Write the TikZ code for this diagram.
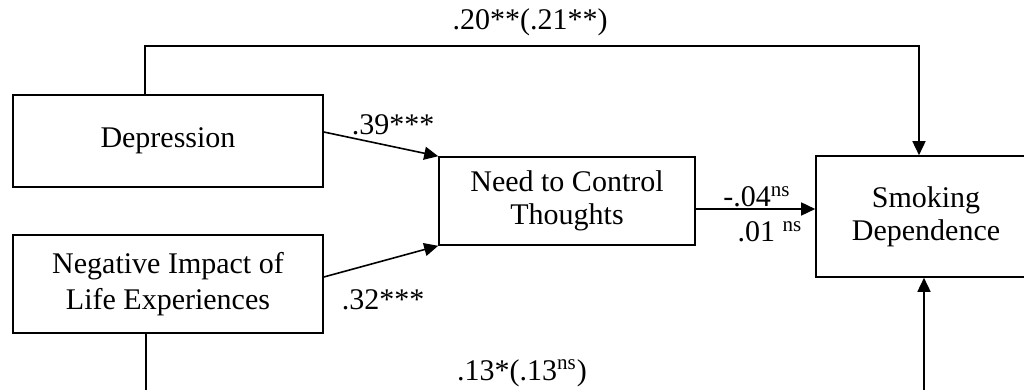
\documentclass[tikz,border=0pt]{standalone}
\usepackage{fontspec}
\setmainfont{Liberation Serif}
\usetikzlibrary{arrows.meta}
\begin{document}
\begin{tikzpicture}[x=0.5pt,y=-0.5pt,
  box/.style={draw,line width=0.8pt,align=center,inner sep=0pt,
    font=\fontsize{15}{16.5}\selectfont},
  path/.style={line width=0.8pt,-{Triangle[width=6.5pt,length=7pt]}},
  coef/.style={inner sep=0pt,font=\fontsize{15}{16.5}\selectfont}]
\useasboundingbox (0,0) rectangle (1024,390);
\clip (0,0) rectangle (1024,390);
% variables
\node[box,minimum width=155pt,minimum height=46pt] (dep) at (168,141) {Depression};
\node[box,minimum width=155pt,minimum height=49pt] (neg) at (168,284)
  {Negative Impact of\\[1.5pt]Life Experiences};
\node[box,minimum width=128pt,minimum height=44pt] (need) at (567,201)
  {Need to Control\\Thoughts};
\node[box,minimum width=110pt,minimum height=60.5pt] (smk) at (926,216.5)
  {Smoking\\Dependence};
% paths
\draw[path] ([yshift=4.5pt]dep.east) -- (need.north west);
\draw[path] ([yshift=3.5pt]neg.east) -- (need.south west);
\draw[path] ([yshift=-4pt]need.east) -- ([yshift=-4pt]need.east -| smk.west);
\draw[path] ([xshift=-11.5pt]dep.north) -- ++(0,-48) -| ([xshift=-3.5pt]smk.north);
\draw[path] ([xshift=-11pt]neg.south) -- ++(0,80) -| ([xshift=-1pt]smk.south);
% coefficients
\node[coef] (c1) at (530,22) {.20**(.21**)};
\node[coef] (c2) at (393,125) {.39***};
\node[coef] (c3) at (383,300) {.32***};
\node[coef] (c4) at (757,197) {-.04\textsuperscript{ns}};
\node[coef] (c5) at (770,232) {.01 \textsuperscript{ns}};
\node[coef] (c6) at (522,373) {.13*(.13\textsuperscript{ns})};
\end{tikzpicture}
\end{document}
